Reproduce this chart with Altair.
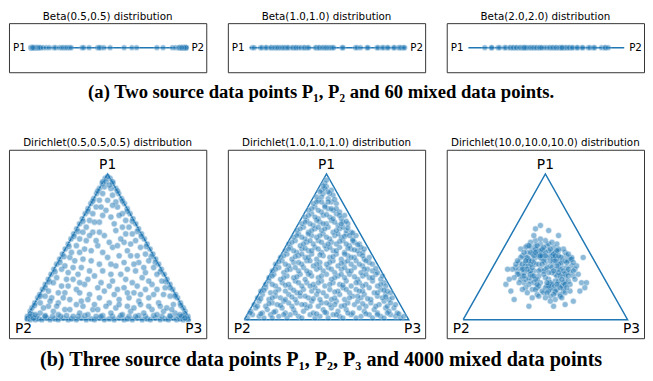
import altair as alt
import pandas as pd

BLUE = "#1f77b4"

# ---------------- top row: 60 mixed points on segment P1-P2 ----------------
beta_titles = ["Beta(0.5,0.5) distribution", "Beta(1.0,1.0) distribution", "Beta(2.0,2.0) distribution"]
beta_05 = [0.001, 0.003, 0.005, 0.008, 0.012, 0.015, 0.02, 0.025, 0.03, 0.035, 0.04, 0.045, 0.05, 0.058,
           0.065, 0.08, 0.1, 0.12, 0.15, 0.16, 0.185, 0.2, 0.21, 0.225, 0.235, 0.25, 0.26, 0.33, 0.34, 0.375,
           0.43, 0.45, 0.47, 0.51, 0.6, 0.65, 0.68, 0.81, 0.85, 0.91, 0.93, 0.95, 0.96, 0.965, 0.97, 0.975,
           0.98, 0.983, 0.986, 0.99, 0.992, 0.995, 0.997, 0.999, 0.02, 0.985, 0.44, 0.955, 0.012, 0.97]
beta_10 = [0.017, 0.03, 0.071, 0.08, 0.103, 0.11, 0.135, 0.14, 0.156, 0.165, 0.177, 0.185, 0.199, 0.21,
           0.22, 0.23, 0.242, 0.25, 0.273, 0.28, 0.295, 0.3, 0.316, 0.33, 0.348, 0.355, 0.37, 0.38, 0.423,
           0.43, 0.444, 0.45, 0.466, 0.475, 0.487, 0.495, 0.508, 0.52, 0.53, 0.594, 0.68, 0.69, 0.712, 0.754,
           0.76, 0.818, 0.825, 0.85, 0.86, 0.882, 0.89, 0.925, 0.93, 0.957, 0.965, 0.975, 0.989, 0.995, 0.6, 0.54]
beta_20 = [0.105, 0.148, 0.15, 0.19, 0.2, 0.232, 0.24, 0.264, 0.27, 0.285, 0.29, 0.306, 0.31, 0.327, 0.335,
           0.348, 0.355, 0.369, 0.375, 0.39, 0.4, 0.411, 0.42, 0.432, 0.44, 0.454, 0.46, 0.485, 0.5, 0.517,
           0.525, 0.538, 0.545, 0.559, 0.565, 0.58, 0.59, 0.601, 0.61, 0.622, 0.63, 0.643, 0.65, 0.665, 0.67,
           0.696, 0.7, 0.728, 0.735, 0.77, 0.78, 0.802, 0.81, 0.854, 0.876, 0.88, 0.897, 0.6, 0.47, 0.36]
seg_ends = [0.0, 1.0]
seg_labels = ["P1", "P2"]

# ---------------- bottom row: points in the simplex P1-P2-P3 ----------------
dir_titles = ["Dirichlet(0.5,0.5,0.5) distribution", "Dirichlet(1.0,1.0,1.0) distribution",
              "Dirichlet(10.0,10.0,10.0) distribution"]
tri_x = [0, 100, 50, 0]
tri_y = [0, 0, 86.6, 0]
tri_labels = ["P1", "P2", "P3"]

dir05_edges = [
    (1, 0.5), (3, 0), (4.5, 1), (6, 0), (8, 0.5), (10, 0), (13, 1), (15, 0), (18, 0.5), (20, 0), (23, 1),
    (26, 0), (28, 0.5), (31, 0), (34, 1), (37, 0), (40, 0.5), (42, 0), (45, 1), (48, 0), (51, 0.5), (54, 0),
    (57, 1), (60, 0), (62, 0.5), (65, 0), (68, 1), (71, 0), (74, 0.5), (76, 0), (79, 1), (82, 0), (85, 0.5),
    (87, 0), (90, 1), (92, 0), (94, 0.5), (96, 0), (97.5, 1), (99, 0),
    (1.2, 2), (2.9, 5), (4, 7), (5.8, 10), (7.5, 13), (8.7, 15), (10.4, 18), (12.1, 21), (13.9, 24),
    (15.6, 27), (17.3, 30), (19, 33), (20.8, 36), (22.5, 39), (24.2, 42), (26, 45), (27.7, 48), (29.4, 51),
    (31.2, 54), (32.9, 57), (34.6, 60), (36.4, 63), (38.1, 66), (39.8, 69), (41.6, 72), (43.3, 75), (45, 78),
    (46.8, 81), (48.5, 84),
    (98.8, 2), (97.1, 5), (96, 7), (94.2, 10), (92.5, 13), (91.3, 15), (89.6, 18), (87.9, 21), (86.1, 24),
    (84.4, 27), (82.7, 30), (81, 33), (79.2, 36), (77.5, 39), (75.8, 42), (74, 45), (72.3, 48), (70.6, 51),
    (68.8, 54), (67.1, 57), (65.4, 60), (63.6, 63), (61.9, 66), (60.2, 69), (58.4, 72), (56.7, 75), (55, 78),
    (53.2, 81), (51.5, 84),
    (3, 3.5), (5.5, 8.5), (9, 14), (12, 19), (14.5, 22.5), (18, 28.5), (21, 34), (23.5, 37.5), (26.5, 43.5),
    (29.5, 49.5), (32, 52.5), (35, 58.5), (38, 64.5), (41, 70.5), (44, 76.5), (47, 82),
    (97, 3.5), (94.5, 8.5), (91, 14), (88, 19), (85.5, 22.5), (82, 28.5), (79, 34), (76.5, 37.5), (73.5, 43.5),
    (70.5, 49.5), (68, 52.5), (65, 58.5), (62, 64.5), (59, 70.5), (56, 76.5), (53, 82),
    (7, 2), (12, 2.5), (16.5, 2), (21.5, 2), (25, 2.5), (32, 2), (36, 2.5), (43, 2), (47, 2.5), (53, 2),
    (58, 2.5), (63, 2), (69, 2.5), (73, 2), (78, 2.5), (83, 2), (88, 2.5), (93, 2), (96, 2.5),
]
dir05_inner = [
    (4, 3), (9, 4), (12, 2), (17, 5), (20, 3), (24, 6), (29, 2), (33, 4), (38, 3), (41, 6), (46, 2), (52, 4),
    (55, 7), (59, 3), (64, 5), (67, 2), (72, 4), (77, 6), (80, 3), (84, 5), (88, 2), (91, 4), (94, 3), (14, 8),
    (35, 8), (62, 8), (86, 7),
    (9, 10), (12, 14), (14, 17), (17, 22), (19, 25), (22, 30), (24, 32), (27, 37), (28, 40), (31, 44), (33, 48),
    (35, 52), (37, 55), (39, 59), (41, 63), (43, 67), (45, 71), (47, 75), (48, 79),
    (90, 9), (88, 14), (85, 19), (83, 23), (80, 27), (78, 31), (75, 35), (73, 39), (70, 43), (67, 47), (65, 51),
    (63, 55), (61, 59), (59, 63), (56, 67), (55, 70), (53, 74), (52, 78),
    (20, 10), (27, 12), (34, 11), (45, 13), (51, 10), (57, 12), (69, 11), (75, 13), (81, 10), (24, 16), (31, 18),
    (39, 15), (48, 17), (60, 19), (66, 16), (73, 18), (78, 15), (29, 24), (36, 21), (42, 26), (53, 23), (58, 27),
    (65, 22), (71, 25), (26, 28), (34, 31), (47, 29), (55, 32), (62, 30), (69, 34), (40, 35), (50, 37), (57, 38),
    (64, 38), (36, 42), (44, 44), (53, 43), (60, 46), (48, 50), (55, 53), (41, 52), (58, 48), (45, 58), (52, 61),
    (49, 65), (54, 57), (50, 71), (43, 47), (38, 24), (16, 13), (84, 15), (73, 28), (30, 35), (63, 13), (42, 9),
    (56, 18), (22, 20), (77, 21), (46, 22), (33, 16), (67, 29),
    (3, 2), (5, 1), (6, 3), (95, 2), (97, 1), (50, 85), (49, 82), (51, 80),
    (11, 7), (19, 8), (27, 6), (31, 9), (44, 6), (49, 8), (57, 9), (66, 7), (70, 9), (75, 8), (82, 8), (89, 6),
    (15, 11), (23, 13), (38, 12), (54, 15), (62, 16), (70, 15), (80, 18), (20, 16), (26, 20), (33, 22), (44, 19),
    (51, 20), (61, 24), (68, 20), (75, 23), (25, 24), (32, 27), (39, 29), (52, 27), (60, 34), (66, 33), (72, 31),
    (29, 31), (35, 36), (45, 33), (52, 33), (62, 41), (68, 38), (33, 40), (40, 41), (47, 40), (56, 44), (64, 45),
    (37, 47), (51, 46), (61, 51), (39, 50), (45, 52), (59, 55), (42, 58), (57, 62), (47, 62), (53, 68), (46, 67),
]
dir10_pts = [
    (2, 1), (5, 3), (9, 2), (12, 1), (16, 3), (17, 1), (21, 2), (26, 1), (28, 3), (33, 2), (35, 1), (40, 3),
    (43, 1), (46, 2), (51, 1), (54, 3), (58, 2), (60, 1), (65, 3), (68, 1), (71, 2), (76, 3), (78, 1), (83, 2),
    (85, 1), (89, 3), (92, 2), (95, 1), (97, 2),
    (4, 5), (7, 7), (11, 4), (14, 6), (19, 5), (23, 7), (25, 4), (30, 6), (36, 5), (38, 7), (42, 4), (48, 6),
    (50, 4), (53, 7), (57, 5), (62, 6), (66, 4), (70, 7), (73, 5), (79, 6), (81, 4), (86, 7), (88, 5), (93, 4),
    (91, 7),
    (6, 9), (9, 11), (13, 8), (17, 10), (20, 9), (24, 11), (29, 8), (32, 10), (37, 9), (41, 11), (45, 8),
    (47, 10), (52, 9), (56, 11), (59, 8), (63, 10), (67, 9), (69, 11), (74, 8), (77, 10), (82, 9), (85, 11),
    (87, 8), (92, 9),
    (8, 13), (11, 15), (15, 12), (19, 14), (22, 13), (27, 15), (31, 12), (34, 14), (39, 13), (44, 15), (46, 12),
    (50, 14), (55, 13), (58, 15), (61, 12), (66, 14), (71, 13), (73, 15), (77, 12), (81, 14), (84, 13), (88, 12),
    (86, 15), (90, 13),
    (10, 17), (13, 19), (16, 16), (21, 18), (25, 17), (28, 19), (32, 16), (36, 18), (41, 17), (43, 19), (48, 16),
    (52, 18), (57, 17), (60, 19), (64, 16), (68, 18), (72, 17), (76, 19), (79, 16), (83, 18), (87, 17), (89, 16),
    (13, 21), (15, 23), (19, 20), (23, 22), (27, 21), (31, 23), (35, 20), (38, 22), (42, 21), (47, 23), (49, 20),
    (54, 22), (58, 21), (62, 23), (65, 20), (70, 22), (74, 21), (78, 23), (81, 20), (85, 22), (86, 20),
    (15, 25), (18, 27), (22, 24), (26, 26), (30, 25), (34, 27), (37, 24), (41, 26), (45, 25), (50, 27), (53, 24),
    (57, 26), (61, 25), (64, 27), (69, 24), (72, 26), (76, 25), (80, 27), (83, 24), (84, 26),
    (17, 29), (21, 31), (24, 28), (28, 30), (33, 29), (36, 31), (40, 28), (44, 30), (48, 29), (51, 31), (55, 28),
    (59, 30), (63, 29), (67, 31), (71, 28), (75, 30), (78, 29), (81, 28),
    (19, 33), (23, 35), (27, 32), (30, 34), (35, 33), (38, 35), (42, 32), (46, 34), (50, 33), (54, 35), (57, 32),
    (61, 34), (65, 33), (68, 35), (72, 32), (76, 34), (78, 33),
    (22, 37), (26, 39), (29, 36), (33, 38), (37, 37), (41, 39), (44, 36), (48, 38), (52, 37), (56, 39), (59, 36),
    (63, 38), (67, 37), (70, 39), (73, 36), (76, 37),
    (25, 41), (28, 43), (32, 40), (35, 42), (39, 41), (43, 43), (47, 40), (50, 42), (54, 41), (58, 43), (61, 40),
    (65, 42), (69, 41), (72, 40), (73, 42),
    (27, 45), (31, 47), (34, 44), (38, 46), (42, 45), (45, 47), (49, 44), (53, 46), (56, 45), (60, 47), (64, 44),
    (67, 46), (70, 45),
    (30, 49), (33, 51), (37, 48), (41, 50), (44, 49), (48, 51), (52, 48), (55, 50), (59, 49), (62, 51), (66, 48),
    (68, 50),
    (32, 53), (36, 55), (39, 52), (43, 54), (47, 53), (51, 55), (54, 52), (58, 54), (62, 53), (65, 52),
    (35, 57), (38, 59), (42, 56), (46, 58), (50, 57), (53, 59), (57, 56), (60, 58), (63, 57),
    (37, 61), (41, 63), (45, 60), (48, 62), (52, 61), (56, 63), (59, 60), (61, 62),
    (39, 65), (43, 67), (47, 64), (51, 66), (54, 65), (58, 64),
    (42, 69), (45, 71), (49, 68), (53, 70), (56, 69),
    (44, 73), (48, 75), (51, 72), (54, 74),
    (47, 77), (50, 79), (53, 77), (49, 81), (50, 83),
]
dir10_extra = [
    (3.5, 4), (10, 3.5), (18, 4.5), (24, 3), (31, 4), (44, 3.5), (49, 4.5), (56, 3), (63, 4), (74, 3.5), (81, 3),
    (87, 4), (94, 3.5),
    (8, 8), (15, 9.5), (22, 8.5), (27, 10), (35, 9), (40, 8), (50, 10), (55, 9), (61, 8.5), (72, 9.5), (80, 8),
    (89, 10),
    (10, 12.5), (17, 13), (25, 12), (29, 13.5), (37, 14), (42, 12.5), (53, 12), (64, 13), (69, 14), (75, 12.5),
    (86, 13.5),
    (12, 17.5), (19, 16.5), (30, 17.5), (34, 16), (45, 17), (55, 16.5), (62, 18), (70, 17), (81, 16), (85, 17.5),
    (17, 21), (25, 20.5), (33, 22), (40, 20), (45, 22), (52, 21), (60, 20.5), (68, 22), (72, 20), (83, 21),
    (17, 26), (24, 25), (32, 25.5), (39, 27), (47, 26), (55, 25), (59, 27), (67, 25.5), (74, 27), (78, 25),
    (19, 30), (26, 29.5), (31, 31), (38, 29), (46, 31), (53, 30), (61, 31), (65, 29), (73, 30), (80, 30.5),
    (21, 34.5), (25, 33), (33, 34), (40, 35), (44, 33), (52, 34), (59, 33.5), (63, 35), (70, 33), (74, 35),
    (24, 38), (31, 37.5), (35, 39), (39, 37), (46, 38.5), (54, 37.5), (61, 39), (65, 37), (72, 38),
    (27, 42), (30, 41), (37, 42.5), (41, 41), (45, 42), (52, 43), (56, 41), (63, 42.5), (67, 41.5), (71, 43),
    (29, 46), (36, 45), (40, 47), (47, 46), (51, 45), (58, 46.5), (62, 45), (66, 47), (69, 44.5),
    (32, 50), (35, 49), (39, 51), (46, 50), (50, 49), (57, 51), (61, 49.5), (64, 50), (66, 51.5),
    (34, 54), (41, 53), (45, 55), (49, 54), (56, 53), (60, 55), (63, 54.5),
    (37, 58), (40, 57), (44, 59), (48, 57), (55, 58), (59, 57), (62, 58.5),
    (39, 62), (43, 61), (50, 62.5), (54, 60), (58, 62),
    (41, 66), (45, 65), (49, 67), (53, 66), (56, 66),
    (44, 70), (47, 70), (51, 70), (55, 71.5), (47, 73),
    (46, 76), (52, 75), (49, 78), (51, 76), (48, 79.5),
]
dir100_pts = [
    (50, 30), (44, 33), (56, 27), (40, 28), (60, 31), (47, 22), (53, 38), (42, 39), (58, 21), (38, 34), (62, 25),
    (49, 41), (36, 26), (64, 35), (45, 19), (55, 34), (43, 29), (57, 30), (48, 36), (52, 24), (41, 23), (59, 37),
    (39, 40), (61, 19), (51, 20), (35, 31), (65, 28), (46, 26), (54, 40), (44, 37), (56, 23), (50, 34), (47, 30),
    (53, 32), (45, 24), (55, 36), (38, 37), (62, 22), (46, 41), (54, 19), (41, 27), (59, 34), (48, 39), (52, 21),
    (43, 34), (57, 26), (50, 25), (40, 32), (60, 27), (49, 29),
    (34, 34), (66, 32), (51, 44), (49, 16), (37, 22), (63, 38), (44, 44), (56, 16), (33, 29), (67, 26), (42, 18),
    (58, 41), (39, 44), (61, 17), (35, 24), (65, 36), (47, 45), (53, 14), (36, 38), (64, 23), (41, 43), (59, 15),
    (32, 31), (68, 30), (45, 15), (55, 43), (38, 19), (62, 40), (34, 27), (66, 37), (48, 17), (52, 45), (40, 36),
    (60, 20), (43, 41), (57, 18), (37, 30), (63, 28), (46, 33), (54, 28),
    (41, 29), (59, 30), (50, 40), (50, 19), (42, 35), (58, 23), (43, 22), (57, 36), (38, 32), (62, 27), (45, 39),
    (55, 20), (40, 25), (60, 34), (47, 41), (53, 18), (39, 37), (61, 22), (44, 18), (56, 40), (37, 28), (63, 31),
    (46, 20), (54, 38), (41, 40), (59, 19), (36, 33), (64, 26), (48, 42), (52, 17), (40, 21), (60, 37), (44, 42),
    (56, 17), (38, 24), (62, 35), (43, 38), (57, 21), (39, 30), (61, 29), (46, 38), (54, 21), (42, 26), (58, 33),
    (45, 21), (55, 37), (41, 33), (59, 26), (47, 37), (53, 22), (44, 24), (56, 35), (40, 35), (60, 24), (48, 38),
    (52, 20), (43, 26), (57, 32), (42, 31), (58, 28), (37, 26), (63, 34), (49, 43), (51, 16), (38, 35), (62, 21),
    (45, 44), (55, 15), (36, 30), (64, 30),
    (33, 27), (67, 29), (50, 47), (50, 13), (35, 37), (65, 21), (38, 43), (62, 16), (34, 22), (66, 36), (44, 47),
    (56, 12), (32, 33), (68, 24), (41, 46), (59, 14), (36, 18), (64, 39), (47, 48), (53, 11), (31, 25), (69, 32),
    (39, 16), (61, 42), (35, 42), (65, 17), (43, 50), (57, 45), (30, 30), (70, 27), (46, 14), (54, 46), (37, 40),
    (63, 19), (33, 35), (67, 34), (42, 13), (58, 42), (40, 44), (60, 13),
    (26, 21), (28, 24), (72, 22), (75, 22), (74, 19), (67, 11), (47, 56), (52, 53), (29, 17), (71, 17), (44, 54),
    (58, 50), (31, 12), (62, 9), (27, 30), (73, 37), (40, 8), (55, 8),
    (51, 37), (53, 35), (49, 35), (52, 41), (55, 39), (57, 41), (51, 31), (54, 31), (48, 33), (52, 28),
    (56, 38), (50, 38), (47, 38), (53, 42), (58, 38), (49, 27), (51, 22), (46, 29), (55, 29), (44, 40),
]

caption_a = "(a) Two source data points P\u2081, P\u2082 and 60 mixed data points."
caption_b = "(b) Three source data points P\u2081, P\u2082, P\u2083 and 4000 mixed data points"

PANEL_W = 201
TOP_H = 50
BOT_H = 192
FRAME = alt.ViewBackground(stroke="#333333", strokeWidth=1)
DOT_STYLE = dict(color=BLUE, opacity=0.5, stroke="white", strokeWidth=0.5)


def panel_title(text):
    return alt.TitleParams(text=text, font="DejaVu Sans", fontSize=10.5, fontWeight="normal",
                           color="black", offset=1, anchor="middle")


def beta_panel(values, title):
    xs = alt.Scale(domain=[-0.139, 1.127], nice=False, zero=False)
    ys = alt.Scale(domain=[-1, 1], nice=False, zero=False)
    X = alt.X("u:Q", scale=xs, axis=None)
    Y = alt.Y("v:Q", scale=ys, axis=None)
    seg = alt.Chart(pd.DataFrame({"u": seg_ends, "v": [0, 0]})).mark_line(
        color=BLUE, strokeWidth=1.5).encode(x=X, y=Y)
    pts = alt.Chart(pd.DataFrame({"u": values, "v": [0] * len(values)})).mark_circle(
        size=34, **DOT_STYLE).encode(x=X, y=Y)
    lab1 = alt.Chart(pd.DataFrame({"u": [seg_ends[0]], "v": [0], "t": [seg_labels[0]]})).mark_text(
        align="right", baseline="middle", dx=-5, font="DejaVu Sans", fontSize=10.5, color="black"
    ).encode(x=X, y=Y, text="t:N")
    lab2 = alt.Chart(pd.DataFrame({"u": [seg_ends[1]], "v": [0], "t": [seg_labels[1]]})).mark_text(
        align="left", baseline="middle", dx=5, font="DejaVu Sans", fontSize=10.5, color="black"
    ).encode(x=X, y=Y, text="t:N")
    return alt.layer(seg, pts, lab1, lab2).properties(
        width=PANEL_W, height=TOP_H, title=panel_title(title), view=FRAME)


def tri_panel(points, title, size):
    xs = alt.Scale(domain=[-10, 110], nice=False, zero=False)
    ys = alt.Scale(domain=[-11, 101], nice=False, zero=False)
    X = alt.X("px:Q", scale=xs, axis=None)
    Y = alt.Y("py:Q", scale=ys, axis=None)
    tri = alt.Chart(pd.DataFrame({"px": tri_x, "py": tri_y, "o": [0, 1, 2, 3]})).mark_line(
        color=BLUE, strokeWidth=1.5).encode(x=X, y=Y, order="o:Q")
    pts = alt.Chart(pd.DataFrame({"px": [p[0] for p in points], "py": [p[1] for p in points]})).mark_circle(
        size=size, **DOT_STYLE).encode(x=X, y=Y)
    top = alt.Chart(pd.DataFrame({"px": [tri_x[2]], "py": [tri_y[2]], "t": [tri_labels[0]]})).mark_text(
        align="center", baseline="bottom", dy=-2, font="DejaVu Sans", fontSize=14, color="black"
    ).encode(x=X, y=Y, text="t:N")
    left = alt.Chart(pd.DataFrame({"px": [tri_x[0]], "py": [tri_y[0]], "t": [tri_labels[1]]})).mark_text(
        align="center", baseline="top", dx=-2, dy=3, font="DejaVu Sans", fontSize=14, color="black"
    ).encode(x=X, y=Y, text="t:N")
    right = alt.Chart(pd.DataFrame({"px": [tri_x[1]], "py": [tri_y[1]], "t": [tri_labels[2]]})).mark_text(
        align="center", baseline="top", dx=4, dy=3, font="DejaVu Sans", fontSize=14, color="black"
    ).encode(x=X, y=Y, text="t:N")
    return alt.layer(tri, pts, top, left, right).properties(
        width=PANEL_W, height=BOT_H, title=panel_title(title), view=FRAME)


def caption(text, h, ypos, size):
    return alt.Chart(pd.DataFrame({"t": [text]})).mark_text(
        font="Liberation Serif", fontWeight="bold", fontSize=size, color="black",
        align="center", baseline="middle"
    ).encode(text="t:N", x=alt.value(318), y=alt.value(ypos)).properties(width=643, height=h)


top_row = alt.hconcat(beta_panel(beta_05, beta_titles[0]),
                      beta_panel(beta_10, beta_titles[1]),
                      beta_panel(beta_20, beta_titles[2]), spacing=20)
bot_row = alt.hconcat(tri_panel(dir05_edges + dir05_inner, dir_titles[0], 40),
                      tri_panel(dir10_pts + dir10_extra, dir_titles[1], 36),
                      tri_panel(dir100_pts, dir_titles[2], 38), spacing=20)

chart = alt.vconcat(top_row, caption(caption_a, 66, 19, 19), bot_row, caption(caption_b, 30, 21, 20.5),
                    spacing=0).properties(padding=0).configure_view(stroke=None)

chart.save("out.html", embed_options={"renderer": "svg", "actions": False})
